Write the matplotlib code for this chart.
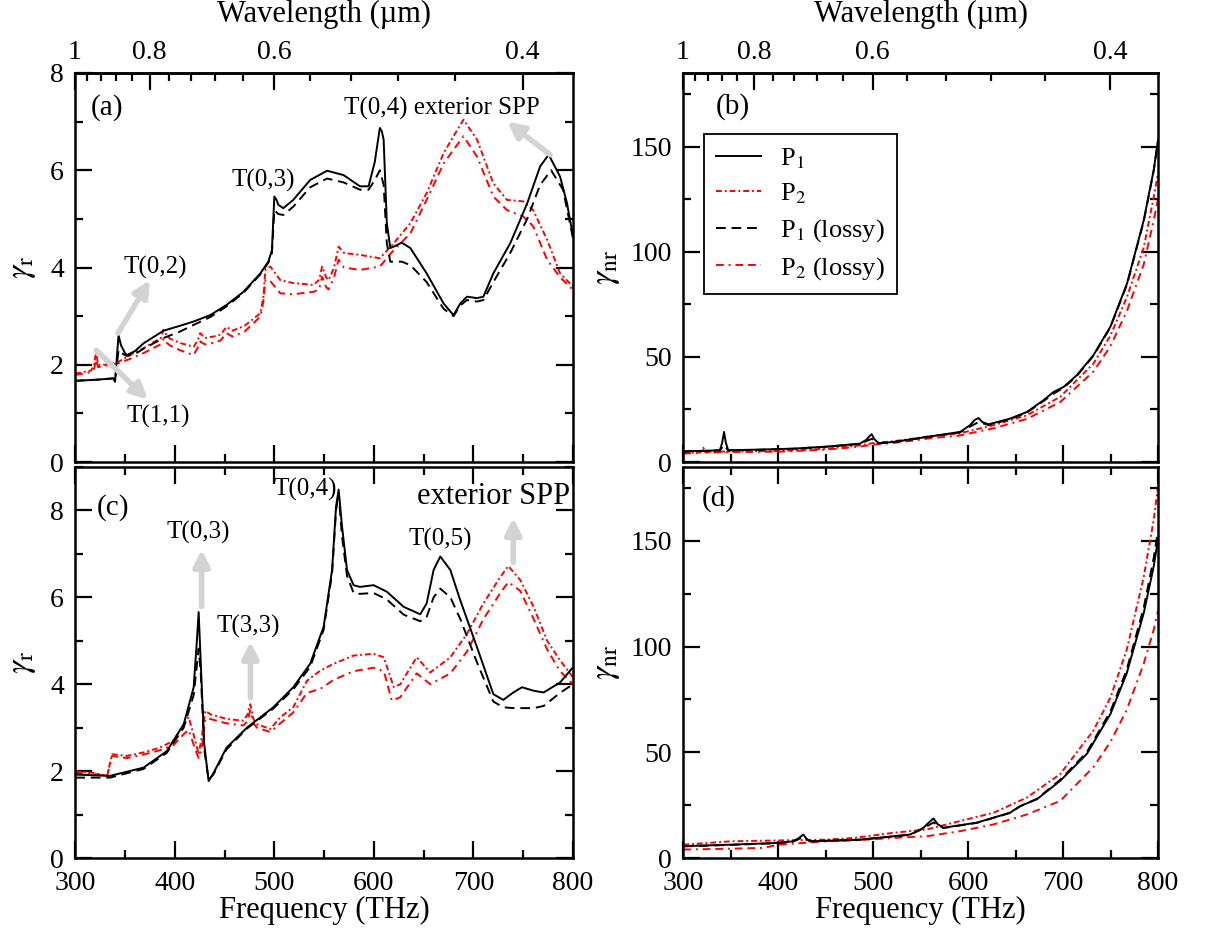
import numpy as np
import matplotlib
matplotlib.use("Agg")
import matplotlib.pyplot as plt
from matplotlib.ticker import MultipleLocator, FixedLocator

plt.rcParams['font.family'] = 'serif'
plt.rcParams['font.serif'] = ['Liberation Serif', 'DejaVu Serif']
plt.rcParams['mathtext.fontset'] = 'stix'
plt.rcParams['font.size'] = 19

C_LIGHT = 299.792458  # THz * um

# ---------------- panel (a): gamma_r, geometry 1 ----------------
fa_p1 = [300, 320, 338.5, 340, 343.5, 346, 350, 352, 360, 368.6, 388.7, 405, 419, 435.6, 452, 469, 486, 494, 497.6, 500,
         502, 504, 509, 519, 536, 553, 569.6, 586, 594.7, 601, 604, 606, 608, 609.8, 613, 616.5, 620, 628, 636.6, 653,
         670, 680, 686.8, 693.5, 703.6, 710, 720, 737, 754, 767, 775.6, 787, 794, 800]
ga_p1 = [1.67, 1.69, 1.72, 1.65, 2.61, 2.4, 2.24, 2.2, 2.28, 2.44, 2.70, 2.8, 2.89, 3.02, 3.23, 3.5, 3.88, 4.12, 4.36, 5.46,
         5.4, 5.29, 5.22, 5.39, 5.8, 5.99, 5.9, 5.67, 5.67, 6.18, 6.6, 6.87, 6.8, 6.63, 4.91, 4.40, 4.43, 4.51, 4.4, 3.88,
         3.26, 3.02, 3.26, 3.40, 3.37, 3.4, 3.88, 4.5, 5.32, 6.08, 6.32, 5.87, 5.32, 4.64]

fa_p1l = [300, 320, 338.5, 340, 343.5, 346, 350, 352, 360, 368.6, 388.7, 405, 419, 435.6, 452, 469, 486, 494, 497.6, 500,
          504, 509, 519, 536, 553, 569.6, 586, 594.7, 601, 606, 609.8, 613, 616.5, 620, 628, 636.6, 653, 670, 680, 686.8,
          693.5, 703.6, 710, 720, 737, 754, 767, 778, 790, 800]
ga_p1l = [1.67, 1.69, 1.72, 1.66, 2.3, 2.25, 2.2, 2.18, 2.22, 2.33, 2.55, 2.68, 2.82, 2.98, 3.2, 3.48, 3.86, 4.1, 4.3, 5.18,
          5.1, 5.08, 5.25, 5.65, 5.83, 5.75, 5.6, 5.6, 5.8, 6.0, 5.7, 4.5, 4.12, 4.12, 4.12, 4.05, 3.7, 3.15, 3.0, 3.22,
          3.33, 3.3, 3.33, 3.7, 4.3, 5.0, 5.7, 6.0, 5.6, 4.6]

fa_p2 = [300, 316, 319, 321, 323, 330, 343.5, 355, 368.6, 380, 386, 388.7, 392, 395, 405, 419, 423, 425.6, 430, 439,
         446, 452, 458, 470, 486, 489, 491, 496, 506, 519, 530, 539.5, 545, 548, 552, 554.5, 560, 564.6, 570, 573,
         586, 606, 620, 636.6, 653, 670, 680, 690, 703.6, 720, 733.7, 750, 760, 774, 787, 800]
ga_p2 = [1.82, 1.88, 2.0, 2.27, 2.0, 2.0, 2.06, 2.2, 2.34, 2.48, 2.55, 2.72, 2.6, 2.54, 2.45, 2.37, 2.5, 2.65, 2.55, 2.58,
         2.62, 2.78, 2.7, 2.8, 3.06, 3.4, 3.95, 4.02, 3.74, 3.68, 3.66, 3.64, 3.75, 4.02, 3.8, 3.74, 4.0, 4.43, 4.3, 4.29,
         4.26, 4.19, 4.5, 4.91, 5.53, 6.35, 6.7, 7.04, 6.63, 5.73, 5.39, 5.36, 5.18, 4.57, 3.88, 3.61]

fa_p2l = [300, 316, 319, 321, 323, 330, 343.5, 355, 368.6, 380, 386, 388.7, 392, 395, 405, 419, 423, 425.6, 430, 439,
          446, 452, 458, 470, 486, 489, 491, 496, 506, 519, 539.5, 545, 548, 552, 554.5, 560, 564.6, 570, 586, 606,
          620, 636.6, 653, 670, 690, 703.6, 720, 733.7, 750, 760, 774, 787, 800]
ga_p2l = [1.79, 1.85, 1.92, 2.1, 1.95, 1.98, 2.03, 2.12, 2.24, 2.36, 2.42, 2.54, 2.45, 2.4, 2.3, 2.2, 2.35, 2.48, 2.42, 2.45,
          2.5, 2.65, 2.58, 2.68, 2.99, 3.3, 3.74, 3.72, 3.47, 3.45, 3.5, 3.55, 3.81, 3.6, 3.55, 3.8, 4.16, 4.0, 3.95, 4.02,
          4.36, 4.7, 5.39, 6.14, 6.7, 6.28, 5.46, 5.18, 5.05, 4.85, 4.16, 3.8, 3.54]

# ---------------- panel (c): gamma_r, geometry 2 ----------------
fc_p1 = [300, 335, 368.6, 392, 409, 419, 422, 424, 426, 429.6, 434, 439, 452, 472.5, 499, 519, 536, 549.5, 558, 562,
         564.6, 568, 573, 579.6, 586, 599.7, 613, 630, 646.6, 653, 660, 666.7, 676.8, 686.8, 703.6, 720, 730, 740, 748.8, 760.5,
         770.5, 787, 800]
gc_p1 = [1.92, 1.89, 2.08, 2.46, 3.08, 3.93, 4.93, 5.66, 4.55, 2.62, 1.77, 1.96, 2.54, 3.0, 3.47, 3.93, 4.47, 5.32, 6.63, 8.09,
         8.48, 7.63, 6.63, 6.28, 6.24, 6.28, 6.13, 5.78, 5.61, 5.86, 6.63, 6.94, 6.63, 5.93, 4.85, 3.77, 3.64, 3.81, 3.93, 3.85,
         3.81, 4.04, 4.39]

fc_p1l = [300, 335, 368.6, 392, 409, 419, 422, 424, 426, 429.6, 434, 439, 452, 472.5, 499, 519, 536, 549.5, 558, 562,
          564.6, 568, 573, 579.6, 586, 599.7, 613, 630, 646.6, 653, 660, 666.7, 676.8, 686.8, 703.6, 720, 730, 740, 760.5, 770.5,
          787, 800]
gc_p1l = [1.85, 1.85, 2.05, 2.42, 3.0, 3.75, 4.4, 4.82, 4.3, 2.5, 1.8, 1.93, 2.5, 2.98, 3.44, 3.88, 4.4, 5.25, 6.55, 8.0,
          8.4, 7.4, 6.5, 6.1, 6.08, 6.1, 5.95, 5.6, 5.45, 5.55, 6.0, 6.2, 6.0, 5.5, 4.5, 3.6, 3.47, 3.45, 3.45, 3.5,
          3.8, 4.0]

fc_p2 = [300, 318, 332, 337, 352, 368.6, 385, 398.8, 409, 414, 420.6, 424, 427, 430.6, 435.6, 452, 469, 473, 475.8, 479,
         482.5, 496, 506, 519, 532.8, 546, 559.5, 579.6, 599.7, 610, 620, 626.5, 643, 656.6, 676.8, 693.5, 710, 727, 735, 747,
         760.5, 774, 787, 800]
gc_p2 = [2.0, 1.96, 1.89, 2.39, 2.35, 2.43, 2.54, 2.7, 3.08, 3.24, 2.7, 2.39, 2.77, 3.39, 3.31, 3.2, 3.16, 3.3, 3.54, 3.2,
         3.08, 2.97, 3.24, 3.47, 4.08, 4.31, 4.47, 4.66, 4.7, 4.62, 3.93, 4.0, 4.62, 4.27, 4.62, 5.16, 5.86, 6.47, 6.72, 6.4,
         5.78, 5.0, 4.55, 4.16]

fc_p2l = [300, 318, 332, 337, 352, 368.6, 385, 398.8, 409, 414, 420.6, 424, 427, 430.6, 435.6, 452, 469, 473, 475.8, 479,
          482.5, 496, 506, 519, 532.8, 546, 559.5, 579.6, 599.7, 610, 618, 626.5, 643, 656.6, 676.8, 693.5, 710, 727, 735, 747,
          760.5, 774, 787, 800]
gc_p2l = [1.96, 1.94, 1.88, 2.35, 2.3, 2.38, 2.48, 2.6, 2.85, 2.95, 2.5, 2.3, 2.5, 3.2, 3.2, 3.1, 3.05, 3.15, 3.4, 3.1,
          3.0, 2.9, 3.1, 3.35, 3.8, 3.89, 4.1, 4.3, 4.38, 4.3, 3.62, 3.7, 4.25, 4.0, 4.25, 4.75, 5.5, 6.1, 6.35, 6.15,
          5.5, 4.8, 4.3, 4.0]

# ---------------- panel (b): gamma_nr, geometry 1 ----------------
fb_p1 = [300, 320, 338.6, 341, 343, 345, 347.4, 380, 416, 450, 486, 493, 496, 498.5, 501, 505.6, 521, 556.5, 591.7, 602,
         607, 611, 615, 621.5, 644, 662, 679.5, 690, 700.6, 714.6, 732, 749.8, 767.4, 785, 795.5, 800]
gb_p1 = [5.1, 5.3, 5.6, 9.0, 14.3, 9.0, 5.6, 5.9, 6.35, 7.3, 8.7, 10.6, 12.2, 13.2, 11.0, 9.0, 9.5, 11.9, 14.3, 17.5,
         20.0, 20.9, 19.0, 17.9, 20.6, 23.8, 29.4, 33.3, 35.7, 41.3, 50.8, 64.3, 84.9, 115, 138.9, 153]

fb_p1l = [300, 320, 338.6, 343, 347.4, 380, 416, 450, 486, 498.5, 505.6, 521, 556.5, 591.7, 602, 611, 621.5, 644, 662, 679.5,
          690, 700.6, 714.6, 732, 749.8, 767.4, 785, 795.5, 800]
gb_p1l = [5.0, 5.2, 5.5, 8.0, 5.5, 5.8, 6.3, 7.2, 8.6, 11.0, 8.9, 9.4, 11.8, 14.1, 16.8, 19.0, 17.6, 20.3, 23.5, 29.0,
          32.5, 35.3, 41.0, 50.5, 64.0, 84.5, 114.5, 138.5, 152.5]

fb_p2 = [300, 318, 321, 324, 345, 400, 450, 486, 500, 520, 542, 560, 590, 626.8, 662, 697, 732, 749.8, 767.4, 785,
         795.5, 800]
gb_p2 = [4.3, 4.6, 6.8, 4.8, 5.0, 5.2, 6.3, 7.9, 9.0, 9.8, 11.1, 12.3, 13.5, 17.5, 22.2, 31.0, 46.8, 60.0, 78.6, 102,
         126, 137]

fb_p2l = [300, 318, 321, 324, 345, 400, 450, 486, 500, 520, 542, 560, 590, 626.8, 662, 697, 732, 749.8, 767.4, 785,
          795.5, 800]
gb_p2l = [4.0, 4.3, 5.6, 4.5, 4.7, 4.9, 5.9, 7.3, 8.3, 9.0, 10.2, 11.3, 12.5, 16.0, 20.5, 28.5, 43.0, 55.0, 72.0, 94.0,
          115.0, 125.0]

# ---------------- panel (d): gamma_nr, geometry 2 ----------------
fd_p1 = [300, 350, 398, 416, 422, 426.5, 430, 433.5, 486, 539, 553, 558, 563.5, 568, 574, 609, 644, 655, 672.5, 697,
         725, 750, 767, 785, 795.5, 800]
gd_p1 = [5.6, 6.3, 7.1, 7.9, 9.5, 11.1, 9.0, 7.9, 8.7, 11.1, 14.3, 16.5, 18.7, 16.0, 14.3, 16.7, 21.4, 24.6, 27.8, 36.5,
         49.2, 68.2, 87.3, 115.9, 138, 150.8]

fd_p1l = [300, 350, 398, 416, 426.5, 433.5, 486, 539, 553, 563.5, 574, 609, 644, 655, 672.5, 697, 725, 750, 767, 785,
          795.5, 800]
gd_p1l = [5.5, 6.2, 7.0, 7.8, 10.0, 7.9, 8.6, 11.0, 14.0, 16.8, 14.2, 16.6, 21.3, 24.5, 28.0, 37.0, 50.0, 69.5, 89.0, 118.5,
          142.0, 155.0]

fd_p2 = [300, 350, 400, 451, 480, 521, 556.5, 591.7, 626.8, 662, 697, 732, 750, 767, 785, 795.5, 800]
gd_p2 = [6.3, 7.9, 8.3, 8.7, 9.5, 11.9, 13.5, 17.5, 21.4, 28.6, 39.7, 60.3, 76.0, 98.4, 133, 160, 176]

fd_p2l = [300, 350, 385, 400, 451, 480, 521, 556.5, 591.7, 626.8, 662, 697, 732, 750, 767, 785, 795.5, 800]
gd_p2l = [4.0, 4.4, 4.8, 6.3, 7.9, 8.3, 9.5, 10.3, 12.7, 15.9, 20.6, 27.0, 43.0, 55.0, 70.0, 92.0, 108.0, 117.0]

wl_major = [1, 0.8, 0.6, 0.4]
wl_labels = ['1', '0.8', '0.6', '0.4']
wl_minor = [0.96, 0.92, 0.88, 0.84, 0.76, 0.72, 0.68, 0.64, 0.56, 0.52, 0.48, 0.44, 0.36]

labels = [r'P$_1$', r'P$_2$', r'P$_1$ (lossy)', r'P$_2$ (lossy)']
styles = [dict(color='black', ls='-'),
          dict(color='red', ls=(0, (3, 1.5, 1, 1.5))),
          dict(color='black', ls=(0, (5, 3))),
          dict(color='red', ls=(0, (4, 2.5, 1, 2.5, 4, 2.5)))]

W, H = 1222, 936
fig = plt.figure(figsize=(W / 100, H / 100), dpi=100)


def box(l, r, t, b):
    return [l / W, 1 - b / H, (r - l) / W, (b - t) / H]


ax_a = fig.add_axes(box(75, 573, 73, 462))
ax_c = fig.add_axes(box(75, 573, 467, 858))
ax_b = fig.add_axes(box(683, 1158, 73, 462))
ax_d = fig.add_axes(box(683, 1158, 467, 858))


def f2w(f):
    f = np.asarray(f, dtype=float)
    return C_LIGHT / np.where(f == 0, 1e-9, f)


def draw(ax, curves):
    # red first so the black curves stay on top
    lines = {}
    for k in [1, 3, 0, 2]:
        x, y = curves[k]
        ln, = ax.plot(x, y, lw=1.4, label=labels[k], **styles[k])
        lines[k] = ln
    return [lines[k] for k in range(4)]


draw(ax_a, [(fa_p1, ga_p1), (fa_p2, ga_p2), (fa_p1l, ga_p1l), (fa_p2l, ga_p2l)])
draw(ax_c, [(fc_p1, gc_p1), (fc_p2, gc_p2), (fc_p1l, gc_p1l), (fc_p2l, gc_p2l)])
lines_b = draw(ax_b, [(fb_p1, gb_p1), (fb_p2, gb_p2), (fb_p1l, gb_p1l), (fb_p2l, gb_p2l)])
draw(ax_d, [(fd_p1, gd_p1), (fd_p2, gd_p2), (fd_p1l, gd_p1l), (fd_p2l, gd_p2l)])

for ax, top in [(ax_a, True), (ax_b, True), (ax_c, False), (ax_d, False)]:
    ax.set_xlim(C_LIGHT, 800)
    ax.xaxis.set_major_locator(MultipleLocator(100))
    ax.xaxis.set_minor_locator(MultipleLocator(50))
    for s in ax.spines.values():
        s.set_linewidth(1.8)
    ax.tick_params(which='both', direction='in', width=1.6, right=True, top=not top, labelsize=20)
    ax.tick_params(axis='x', pad=9)
    ax.tick_params(axis='y', pad=8)
    ax.tick_params(which='major', length=12)
    ax.tick_params(which='minor', length=6)
    if top:
        ax.tick_params(axis='x', labelbottom=False)
        sec = ax.secondary_xaxis('top', functions=(f2w, f2w))
        sec.set_xticks(wl_major)
        sec.set_xticklabels(wl_labels)
        sec.xaxis.set_minor_locator(FixedLocator(wl_minor))
        sec.tick_params(which='both', direction='in', width=1.6, labelsize=20, pad=6)
        sec.tick_params(which='major', length=12)
        sec.tick_params(which='minor', length=6)
        sec.spines['top'].set_linewidth(1.8)
        sec.set_xlabel('Wavelength (\u00b5m)', fontsize=22, labelpad=13)
    else:
        ax.set_xlabel('Frequency (THz)', fontsize=22, labelpad=0)

for ax, ymax in [(ax_a, 8), (ax_c, 9)]:
    ax.set_ylim(0, ymax)
    ax.yaxis.set_major_locator(MultipleLocator(2))
    ax.yaxis.set_minor_locator(MultipleLocator(1))
    ax.set_ylabel(r'$\gamma_\mathrm{r}$', fontsize=24)
    ax.yaxis.set_label_coords(-0.074, 0.5)

for ax in [ax_b, ax_d]:
    ax.set_ylim(0, 185)
    ax.yaxis.set_major_locator(MultipleLocator(50))
    ax.yaxis.set_minor_locator(MultipleLocator(25))
    ax.set_ylabel(r'$\gamma_\mathrm{nr}$', fontsize=24)
    ax.yaxis.set_label_coords(-0.128, 0.5)

# panel letters
ax_a.text(332, 7.28, '(a)', ha='center', va='center', fontsize=21)
ax_b.text(352, 169, '(b)', ha='center', va='center', fontsize=21)
ax_c.text(338, 8.06, '(c)', ha='center', va='center', fontsize=21)
ax_d.text(337, 170, '(d)', ha='center', va='center', fontsize=21)

arrow = dict(arrowstyle='-|>', color='#d3d3d3', lw=4, mutation_scale=24, shrinkA=0, shrinkB=0)

# annotations (a)
ax_a.text(489, 5.8, 'T(0,3)', ha='center', va='center', fontsize=18)
ax_a.text(668, 7.28, 'T(0,4) exterior SPP', ha='center', va='center', fontsize=18)
ax_a.text(380, 4.0, 'T(0,2)', ha='center', va='center', fontsize=18)
ax_a.text(383, 0.93, 'T(1,1)', ha='center', va='center', fontsize=18)
ax_a.annotate('', xy=(375, 3.74), xytext=(343, 2.65), arrowprops=arrow)
ax_a.annotate('', xy=(373, 1.28), xytext=(321, 2.3), arrowprops=arrow)
ax_a.annotate('', xy=(734, 7.0), xytext=(777, 6.32), arrowprops=arrow)

# annotations (c)
ax_c.text(423.5, 7.49, 'T(0,3)', ha='center', va='center', fontsize=18)
ax_c.text(474, 5.33, 'T(3,3)', ha='center', va='center', fontsize=18)
ax_c.text(531, 8.48, 'T(0,4)', ha='center', va='center', fontsize=18)
ax_c.text(666.5, 7.33, 'T(0,5)', ha='center', va='center', fontsize=18)
ax_c.text(797, 8.32, 'exterior SPP', ha='right', va='center', fontsize=22)
ax_c.annotate('', xy=(427, 7.1), xytext=(427, 5.79), arrowprops=arrow)
ax_c.annotate('', xy=(476, 4.98), xytext=(476, 3.69), arrowprops=arrow)
ax_c.annotate('', xy=(740, 7.83), xytext=(740, 6.8), arrowprops=arrow)

leg = ax_b.legend(handles=lines_b, loc='upper left', bbox_to_anchor=(0.044, 0.843), borderaxespad=0,
                  fontsize=19, frameon=True, fancybox=False, edgecolor='black', framealpha=1,
                  handlelength=1.7, handletextpad=0.75, labelspacing=0.42, borderpad=0.45)
leg.get_frame().set_linewidth(1.3)

fig.savefig('out.png', dpi=100)
